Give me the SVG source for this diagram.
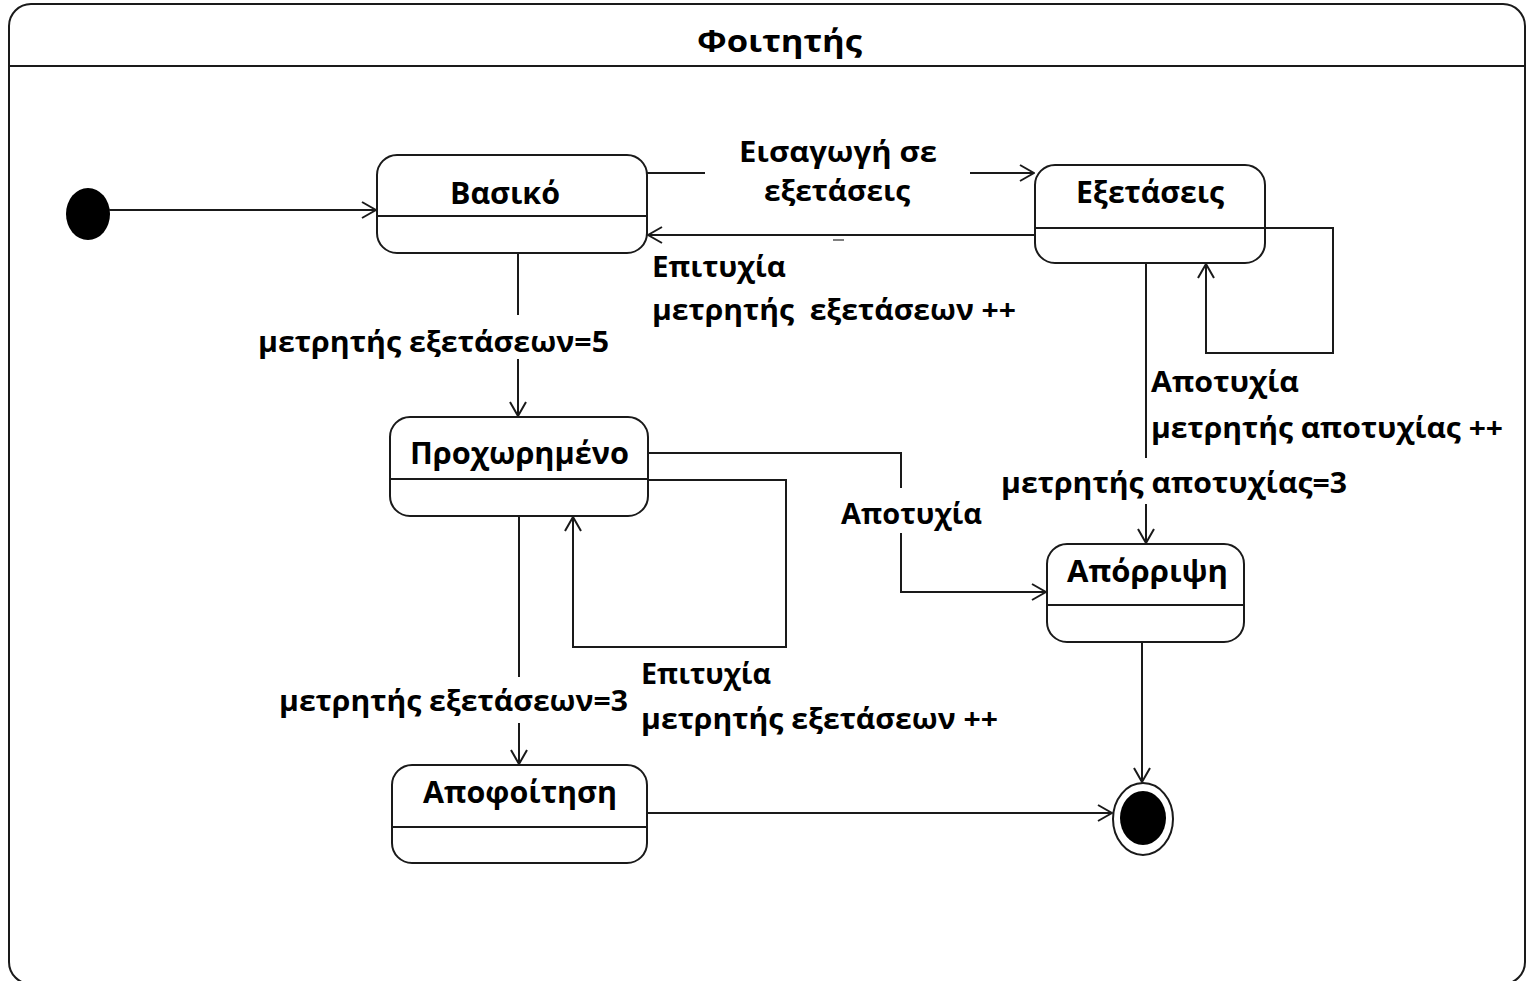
<svg xmlns="http://www.w3.org/2000/svg" width="1526" height="981" viewBox="0 0 1526 981">
  <style>
    .frame { fill: #ffffff; stroke: #1a1a1a; stroke-width: 2; }
    .state rect { fill: #ffffff; stroke: #1a1a1a; stroke-width: 2; }
    .state line { stroke: #1a1a1a; stroke-width: 2; }
    .name { font-family: "Open Sans", "Liberation Sans", sans-serif; font-weight: bold; font-size: 30px; fill: #000; }
    .lbl { font-family: "Open Sans", "Liberation Sans", sans-serif; font-weight: bold; font-size: 29px; fill: #000; }
    .edge { fill: none; stroke: #1a1a1a; stroke-width: 2; }
  </style>
  <defs>
    <marker id="open" viewBox="0 0 16 18" refX="15" refY="9" markerWidth="16" markerHeight="18" markerUnits="userSpaceOnUse" orient="auto">
      <path d="M1,1 L15,9 L1,17" fill="none" stroke="#1a1a1a" stroke-width="2"/>
    </marker>
  </defs>

  <!-- outer frame with title compartment -->
  <g id="frame">
    <rect class="frame" x="9" y="4" width="1516" height="980" rx="22" ry="22"/>
    <line x1="9" y1="66" x2="1525" y2="66" stroke="#1a1a1a" stroke-width="2"/>
    <text class="name" x="697" y="52" font-size="34" textLength="165" lengthAdjust="spacingAndGlyphs">Φοιτητής</text>
  </g>

  <!-- pseudo states -->
  <g id="initial">
    <ellipse cx="88" cy="214" rx="22" ry="26" fill="#000"/>
  </g>
  <g id="final">
    <ellipse cx="1143" cy="819" rx="30" ry="36" fill="#fff" stroke="#1a1a1a" stroke-width="2"/>
    <ellipse cx="1143" cy="818" rx="23" ry="27" fill="#000"/>
  </g>

  <!-- states -->
  <g id="vasiko" class="state">
    <rect x="377" y="155" width="270" height="98" rx="20" ry="20"/>
    <line x1="377" y1="216" x2="647" y2="216"/>
    <text class="name" x="450" y="204" textLength="110" lengthAdjust="spacingAndGlyphs">Βασικό</text>
  </g>
  <g id="exetaseis" class="state">
    <rect x="1035" y="165" width="230" height="98" rx="20" ry="20"/>
    <line x1="1035" y1="228" x2="1265" y2="228"/>
    <text class="name" x="1076" y="203" textLength="148" lengthAdjust="spacingAndGlyphs">Εξετάσεις</text>
  </g>
  <g id="proxorimeno" class="state">
    <rect x="390" y="417" width="258" height="99" rx="20" ry="20"/>
    <line x1="390" y1="479" x2="648" y2="479"/>
    <text class="name" x="410" y="464" textLength="219" lengthAdjust="spacingAndGlyphs">Προχωρημένο</text>
  </g>
  <g id="aporripsi" class="state">
    <rect x="1047" y="544" width="197" height="98" rx="20" ry="20"/>
    <line x1="1047" y1="605" x2="1244" y2="605"/>
    <text class="name" x="1067" y="582" textLength="161" lengthAdjust="spacingAndGlyphs">Απόρριψη</text>
  </g>
  <g id="apofoitisi" class="state">
    <rect x="392" y="765" width="255" height="98" rx="20" ry="20"/>
    <line x1="392" y1="827" x2="647" y2="827"/>
    <text class="name" x="423" y="803" textLength="194" lengthAdjust="spacingAndGlyphs">Αποφοίτηση</text>
  </g>

  <!-- transitions -->
  <g id="connectors">
    <path class="edge" d="M109,210 H376" marker-end="url(#open)"/>
    <path class="edge" d="M647,173 H705"/>
    <path class="edge" d="M970,173 H1034" marker-end="url(#open)"/>
    <path class="edge" d="M1035,235 H648" marker-end="url(#open)"/>
    <line x1="833" y1="240" x2="844" y2="240" stroke="#555" stroke-width="1.5"/>
    <path class="edge" d="M1265,228 H1333 V353 H1206 V264" marker-end="url(#open)"/>
    <path class="edge" d="M518,253 V315"/>
    <path class="edge" d="M518,359 V416" marker-end="url(#open)"/>
    <path class="edge" d="M1146,263 V458"/>
    <path class="edge" d="M1146,504 V543" marker-end="url(#open)"/>
    <path class="edge" d="M648,453 H901 V488"/>
    <path class="edge" d="M901,533 V592 H1046" marker-end="url(#open)"/>
    <path class="edge" d="M648,480 H786 V647 H573 V517" marker-end="url(#open)"/>
    <path class="edge" d="M519,516 V677"/>
    <path class="edge" d="M519,723 V764" marker-end="url(#open)"/>
    <path class="edge" d="M1142,642 V782" marker-end="url(#open)"/>
    <path class="edge" d="M647,813 H1112" marker-end="url(#open)"/>
  </g>

  <!-- transition labels -->
  <g id="labels">
    <text class="lbl" x="739" y="162" textLength="198" lengthAdjust="spacingAndGlyphs">Εισαγωγή σε</text>
    <text class="lbl" x="764" y="201" textLength="146" lengthAdjust="spacingAndGlyphs">εξετάσεις</text>
    <text class="lbl" x="652" y="277" textLength="134" lengthAdjust="spacingAndGlyphs">Επιτυχία</text>
    <text class="lbl" x="652" y="320" textLength="364" lengthAdjust="spacingAndGlyphs" xml:space="preserve">μετρητής  εξετάσεων ++</text>
    <text class="lbl" x="258" y="352" textLength="351" lengthAdjust="spacingAndGlyphs">μετρητής εξετάσεων=5</text>
    <text class="lbl" x="1151" y="392" textLength="148" lengthAdjust="spacingAndGlyphs">Αποτυχία</text>
    <text class="lbl" x="1151" y="438" textLength="352" lengthAdjust="spacingAndGlyphs">μετρητής αποτυχίας ++</text>
    <text class="lbl" x="1001" y="493" textLength="346" lengthAdjust="spacingAndGlyphs">μετρητής αποτυχίας=3</text>
    <text class="lbl" x="841" y="524" textLength="141" lengthAdjust="spacingAndGlyphs">Αποτυχία</text>
    <text class="lbl" x="641" y="684" textLength="130" lengthAdjust="spacingAndGlyphs">Επιτυχία</text>
    <text class="lbl" x="279" y="711" textLength="349" lengthAdjust="spacingAndGlyphs">μετρητής εξετάσεων=3</text>
    <text class="lbl" x="641" y="729" textLength="357" lengthAdjust="spacingAndGlyphs">μετρητής εξετάσεων ++</text>
  </g>
</svg>
